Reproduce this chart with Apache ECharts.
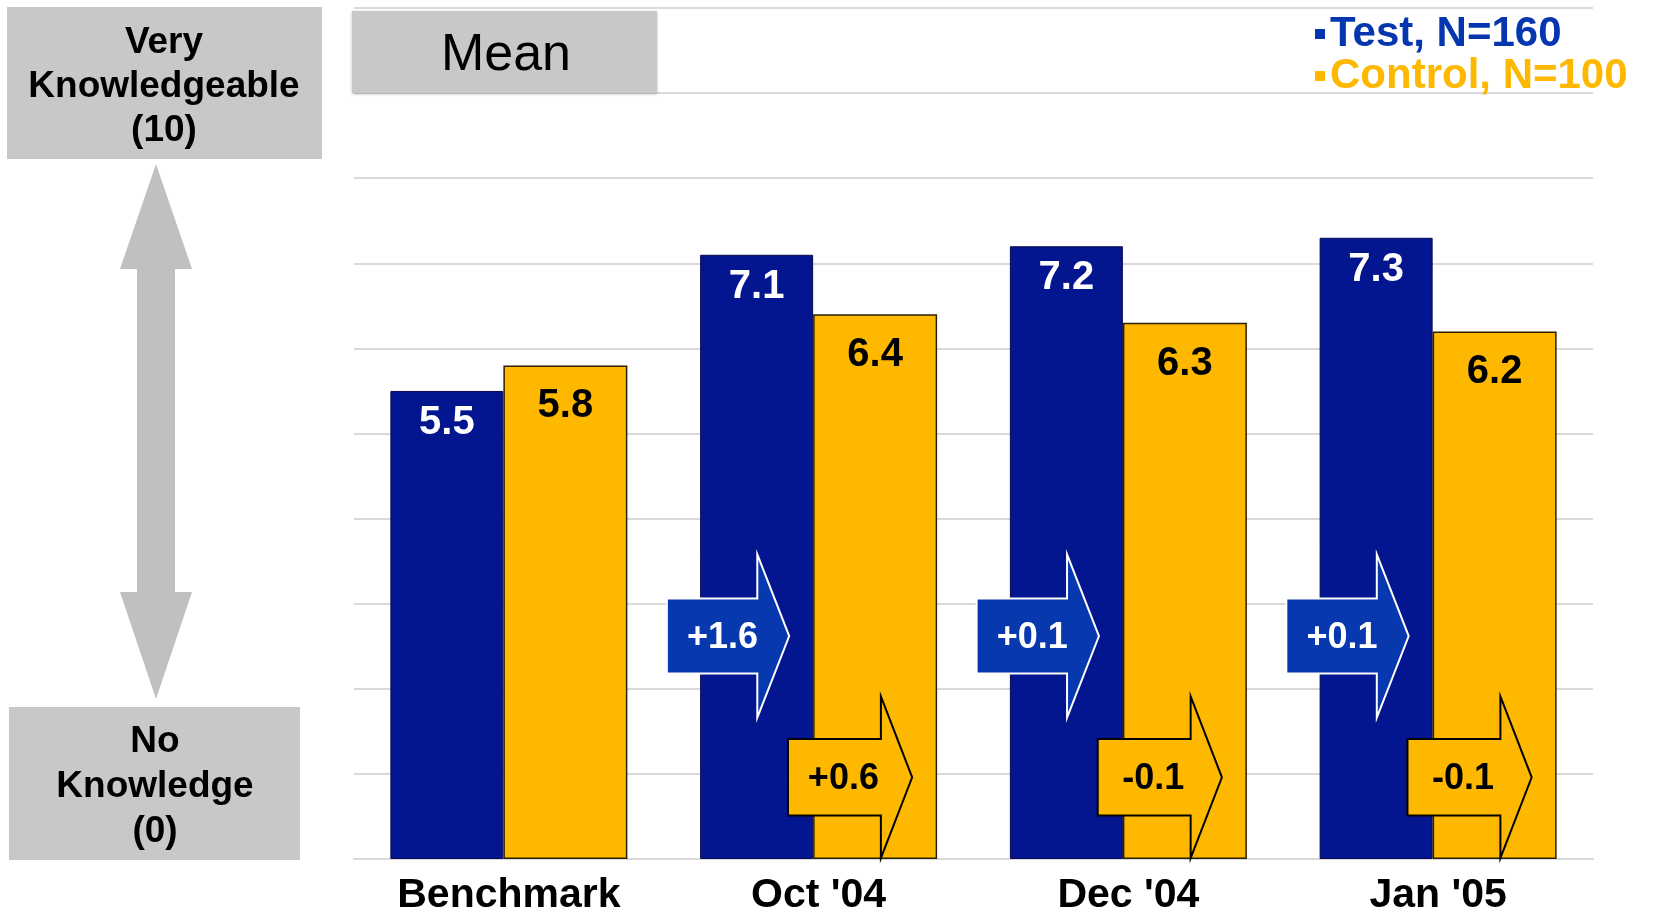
<!DOCTYPE html>
<html><head><meta charset="utf-8">
<script src="https://cdn.jsdelivr.net/npm/echarts@6/dist/echarts.min.js"></script>
<style>html,body{margin:0;padding:0;background:#fff}#c{width:1655px;height:915px}</style>
</head><body><div id="c"></div>
<script>
// ---- data ----
const categories = ['Benchmark', "Oct '04", "Dec '04", "Jan '05"];
const testValues = [5.5, 7.1, 7.2, 7.3];
const controlValues = [5.8, 6.4, 6.3, 6.2];
const changeCategories = ["Oct '04", "Dec '04", "Jan '05"];
const testChanges = [1.6, 0.1, 0.1];
const controlChanges = [0.6, -0.1, -0.1];
const seriesNames = ['Test, N=160', 'Control, N=100'];
const panelTitle = 'Mean';
const scaleTopLabel = 'Very\nKnowledgeable\n(10)';
const scaleBottomLabel = 'No\nKnowledge\n(0)';

// ---- style ----
const FONT = '"Liberation Sans", Arial, Helvetica, sans-serif';
const NAVY = '#04168F';
const ORANGE = '#FFB800';
const LEGEND_BLUE = '#0536AF';
const ARROW_BLUE = '#0738AE';
const GRID_GRAY = '#D9D9D9';

const fmt = v => (v > 0 ? '+' : '') + v.toFixed(1);

const testArrowStyle = {center: 2.62, bodyHalf: 0.44, headHalf: 0.96, left: -0.49, base: -0.198, tip: -0.095,
  textX: -0.31, fill: ARROW_BLUE, stroke: '#ffffff', textColor: '#ffffff'};
const controlArrowStyle = {center: 0.96, bodyHalf: 0.45, headHalf: 0.95, left: -0.099, base: 0.201, tip: 0.302,
  textX: 0.08, fill: ORANGE, stroke: '#000000', textColor: '#000000'};

function arrowRenderer(st) {
  return function (params, api) {
    const cat = api.value(0);
    const v = api.value(1);
    const c = api.coord([cat, 0]);
    const bw = api.size([1, 0])[0];
    const uh = api.size([0, 1])[1];
    const cx = c[0];
    const yc = c[1] - st.center * uh;
    const xl = cx + st.left * bw, xh = cx + st.base * bw, xt = cx + st.tip * bw;
    const bh = st.bodyHalf * uh, hh = st.headHalf * uh;
    const pts = [[xl, yc - bh], [xh, yc - bh], [xh, yc - hh], [xt, yc], [xh, yc + hh], [xh, yc + bh], [xl, yc + bh]];
    return {
      type: 'group',
      children: [
        {type: 'polygon', shape: {points: pts}, style: {fill: st.fill, stroke: st.stroke, lineWidth: 2}},
        {type: 'text', x: cx + st.textX * bw, y: yc + 2,
          style: {text: fmt(v), fill: st.textColor, font: 'bold 36px ' + FONT, align: 'center', verticalAlign: 'middle'}}
      ]
    };
  };
}

const chart = echarts.init(document.getElementById('c'), null, {renderer: 'canvas'});
chart.setOption({
  animation: false,
  backgroundColor: '#ffffff',
  grid: {left: 354, right: 62, top: 8, bottom: 56, containLabel: false, outerBoundsMode: 'none'},
  legend: {
    orient: 'vertical', left: 1310, top: 8, itemGap: 0,
    icon: 'rect', itemWidth: 10, itemHeight: 10,
    selectedMode: false,
    textStyle: {fontFamily: FONT, fontWeight: 'bold', fontSize: 42, lineHeight: 37},
    data: [
      {name: seriesNames[0], itemStyle: {color: LEGEND_BLUE, borderWidth: 0}, textStyle: {color: LEGEND_BLUE}},
      {name: seriesNames[1], itemStyle: {color: ORANGE, borderWidth: 0}, textStyle: {color: ORANGE}}
    ]
  },
  xAxis: {
    type: 'category', data: categories,
    axisLine: {show: true, lineStyle: {color: GRID_GRAY, width: 2}},
    axisTick: {show: false},
    axisLabel: {color: '#000', fontFamily: FONT, fontWeight: 'bold', fontSize: 41, margin: 16}
  },
  yAxis: {
    type: 'value', min: 0, max: 10, interval: 1,
    axisLine: {show: false}, axisTick: {show: false}, axisLabel: {show: false},
    splitLine: {show: true, lineStyle: {color: GRID_GRAY, width: 2}}
  },
  series: [
    {
      name: seriesNames[0], type: 'bar', data: testValues, barWidth: 113, barGap: '0%',
      itemStyle: {color: NAVY, borderColor: '#0a0a50', borderWidth: 1},
      label: {show: true, position: 'insideTop', distance: 12, color: '#fff',
        fontFamily: FONT, fontWeight: 'bold', fontSize: 40, formatter: p => p.value.toFixed(1)}
    },
    {
      name: seriesNames[1], type: 'bar', data: controlValues, barWidth: 124, barGap: '0%',
      itemStyle: {color: ORANGE, borderColor: '#2b2000', borderWidth: 1.5},
      label: {show: true, position: 'insideTop', distance: 21, color: '#000',
        fontFamily: FONT, fontWeight: 'bold', fontSize: 40, formatter: p => p.value.toFixed(1)}
    },
    {
      name: 'testChange', type: 'custom', z: 5, silent: true,
      data: changeCategories.map((c, i) => [c, testChanges[i]]),
      renderItem: arrowRenderer(testArrowStyle)
    },
    {
      name: 'controlChange', type: 'custom', z: 6, silent: true,
      data: changeCategories.map((c, i) => [c, controlChanges[i]]),
      renderItem: arrowRenderer(controlArrowStyle)
    }
  ],
  graphic: [
    {type: 'rect', left: 352, top: 11, shape: {width: 305, height: 82},
      style: {fill: '#C8C8C8', shadowColor: 'rgba(0,0,0,0.25)', shadowBlur: 3, shadowOffsetY: 1}, z: 10},
    {type: 'text', x: 506, y: 56, z: 11,
      style: {text: panelTitle, fill: '#000', font: '52px ' + FONT, align: 'center', verticalAlign: 'middle'}},
    {type: 'rect', left: 7, top: 7, shape: {width: 315, height: 152}, style: {fill: '#C8C8C8'}, z: 10},
    {type: 'text', x: 164, y: 87, z: 11,
      style: {text: scaleTopLabel, fill: '#000', font: 'bold 37px ' + FONT, lineHeight: 44, align: 'center', verticalAlign: 'middle'}},
    {type: 'rect', left: 9, top: 707, shape: {width: 291, height: 153}, style: {fill: '#C8C8C8'}, z: 10},
    {type: 'text', x: 155, y: 787, z: 11,
      style: {text: scaleBottomLabel, fill: '#000', font: 'bold 37px ' + FONT, lineHeight: 45, align: 'center', verticalAlign: 'middle'}},
    {type: 'polygon', z: 10,
      shape: {points: [[156, 164], [192, 269], [175, 269], [175, 592], [192, 592], [156, 699], [120, 592], [137, 592], [137, 269], [120, 269]]},
      style: {fill: '#C0C0C0'}}
  ]
});
</script>
</body></html>
